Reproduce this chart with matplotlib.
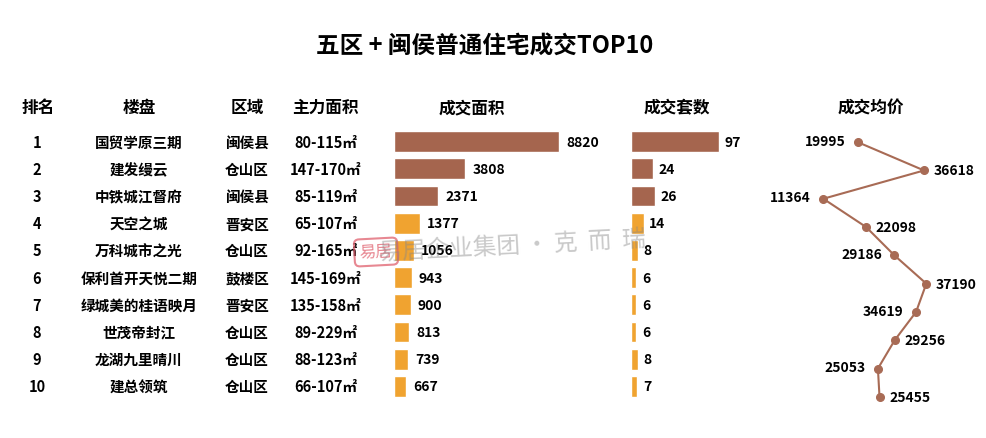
import numpy as np
import matplotlib
matplotlib.use('Agg')
import matplotlib.pyplot as plt
import matplotlib.transforms as mtransforms

plt.rcParams['font.family'] = ['Noto Sans CJK SC', 'DejaVu Sans']

# data
ranks = ['1', '2', '3', '4', '5', '6', '7', '8', '9', '10']
projects = ['国贸学原三期', '建发缦云', '中铁城江督府', '天空之城', '万科城市之光',
            '保利首开天悦二期', '绿城美的桂语映月', '世茂帝封江', '龙湖九里晴川', '建总领筑']
districts = ['闽侯县', '仓山区', '闽侯县', '晋安区', '仓山区',
             '鼓楼区', '晋安区', '仓山区', '仓山区', '仓山区']
sizes = ['80-115㎡', '147-170㎡', '85-119㎡', '65-107㎡', '92-165㎡',
         '145-169㎡', '135-158㎡', '89-229㎡', '88-123㎡', '66-107㎡']
area = [8820, 3808, 2371, 1377, 1056, 943, 900, 813, 739, 667]
units = [97, 24, 26, 14, 8, 6, 6, 6, 8, 7]
price = [19995, 36618, 11364, 22098, 29186, 37190, 34619, 29256, 25053, 25455]

brown = '#A5654E'
orange = '#F0A330'
line_c = '#A86B55'
bar_colors = [brown if i < 3 else orange for i in range(len(area))]

W, H = 987, 439
fig = plt.figure(figsize=(W / 100, H / 100), dpi=100)


def box(x0, y0, x1, y1):
    # pixel box -> figure fraction rect
    return [x0 / W, 1 - y1 / H, (x1 - x0) / W, (y1 - y0) / H]


rows = np.arange(len(area))

# 成交面积
ax1 = fig.add_axes(box(394, 129, 594, 401))
ax1.barh(rows, area, height=0.77, color=bar_colors, edgecolor='white', linewidth=1)
ax1.set_xlim(0, 8820 * 200 / 165)
ax1.set_ylim(9.5, -0.5)
for i, v in enumerate(area):
    ax1.annotate(str(v), (v, i), xytext=(5, 0), textcoords='offset points',
                 va='center', ha='left', fontsize=10, fontweight='bold')
ax1.axis('off')

# 成交套数
ax2 = fig.add_axes(box(631, 129, 761, 401))
ax2.barh(rows, units, height=0.77, color=bar_colors, edgecolor='white', linewidth=1)
ax2.set_xlim(0, 97 * 130 / 88)
ax2.set_ylim(9.5, -0.5)
for i, v in enumerate(units):
    ax2.annotate(str(v), (v, i), xytext=(4, 0), textcoords='offset points',
                 va='center', ha='left', fontsize=10, fontweight='bold')
ax2.axis('off')

# 成交均价
ax3 = fig.add_axes(box(778, 129, 980, 412))
ax3.plot(price, rows, color=line_c, linewidth=1.5, marker='o', markersize=5.5)
ax3.set_xlim(0, 202 / 0.003988)
ax3.set_ylim(9.5, -0.5)
for i, v in enumerate(price):
    if i % 2 == 0:
        ax3.annotate(str(v), (v, i), xytext=(-9, 1), textcoords='offset points',
                     va='center', ha='right', fontsize=10, fontweight='bold')
    else:
        ax3.annotate(str(v), (v, i), xytext=(7, 0), textcoords='offset points',
                     va='center', ha='left', fontsize=10, fontweight='bold')
ax3.axis('off')

# title and headers
fig.text(485 / W, 1 - 47 / H, '五区 + 闽侯普通住宅成交TOP10', ha='center', va='center',
         fontsize=17, fontweight='bold')
headers = [(38, '排名'), (139, '楼盘'), (247, '区域'), (325, '主力面积'),
           (472, '成交面积'), (677, '成交套数'), (871, '成交均价')]
for x, t in headers:
    fig.text(x / W, 1 - 108 / H, t, ha='center', va='center', fontsize=12, fontweight='bold')

# table columns, rows follow the bars
tr = mtransforms.blended_transform_factory(fig.transFigure, ax1.transData)
for i in rows:
    fig.text(37 / W, i, ranks[i], transform=tr, ha='center', va='center',
             fontsize=10.5, fontweight='bold')
    fig.text(139 / W, i, projects[i], transform=tr, ha='center', va='center',
             fontsize=10.5, fontweight='bold')
    fig.text(247 / W, i, districts[i], transform=tr, ha='center', va='center',
             fontsize=10.5, fontweight='bold')
    fig.text(326 / W, i, sizes[i], transform=tr, ha='center', va='center',
             fontsize=10.5, fontweight='bold')

# watermark
fig.text(376 / W, 1 - 253 / H, '易居', ha='center', va='center', fontsize=12,
         color='#E0606E', alpha=0.75, rotation=3,
         bbox=dict(boxstyle='round,pad=0.3', fc='none', ec='#E0606E', lw=1.5, alpha=0.75))
fig.text(512 / W, 1 - 246 / H, '易居企业集团 • 克  而  瑞', ha='center', va='center',
         fontsize=17, color='#888888', alpha=0.45, rotation=3)

fig.savefig('out.png', dpi=100, facecolor='white')
